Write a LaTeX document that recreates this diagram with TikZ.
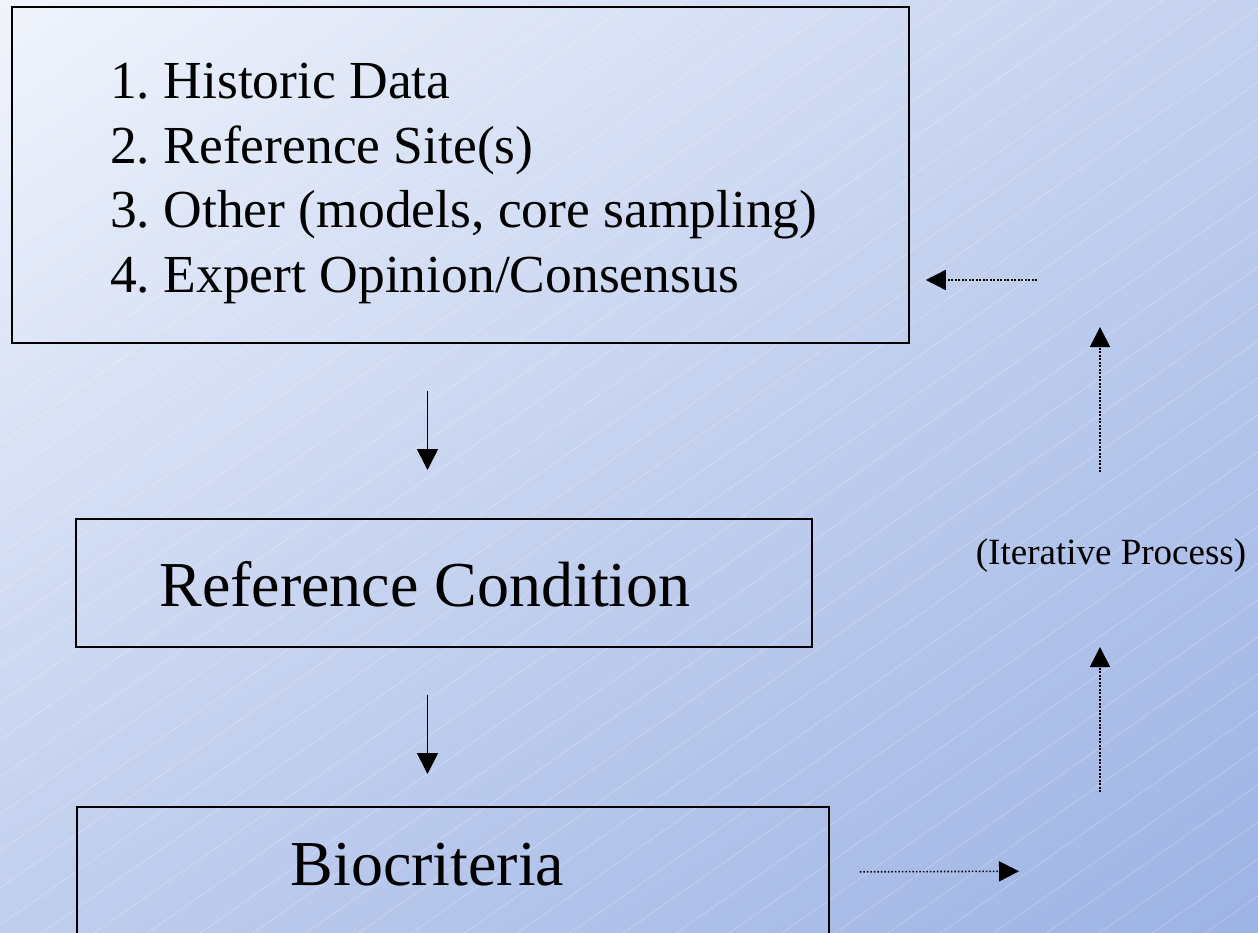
\documentclass[tikz,border=0pt]{standalone}
\usepackage{fontspec}
\setmainfont{Liberation Serif}
\frenchspacing
\usetikzlibrary{arrows.meta,shadings}
\definecolor{bgtopleft}{RGB}{240,244,252}
\definecolor{bgtopright}{RGB}{196,209,239}
\definecolor{bgbotleft}{RGB}{192,206,238}
\definecolor{bgbotright}{RGB}{156,179,228}

\begin{document}
\begin{tikzpicture}[x=1pt,y=-1pt,
    box/.style={draw=black,line width=1.8pt,inner sep=0pt,anchor=north west},
    mainarrow/.style={-{Triangle[length=21pt,width=21pt]},line width=1.8pt},
    iterarrow/.style={-{Triangle[length=20pt,width=20pt]},line width=1.6pt,dash pattern=on 1.6pt off 1.9pt}]
      \useasboundingbox (0,0) rectangle (1258,933);
      % background
      \begin{scope}
        \clip (0,0) rectangle (1258,933);
        \shade[upper left=bgtopleft,upper right=bgtopright,lower left=bgbotleft,lower right=bgbotright]
          (0,0) rectangle (1258,933);
        \foreach \c in {0,37,...,1850}
          \draw[white,opacity=.3,line width=.6pt] (0,\c) -- (1258,\c-880);
      \end{scope}

      \node[box,minimum width=897pt,minimum height=336pt] (databox) at (11,6) {};
      \node[anchor=north west,inner sep=0pt,align=left,font=\fontsize{53.5}{64.5}\selectfont]
      (datalist) at (110,63)
      {1. Historic Data\\2. Reference Site(s)\\3. Other (models, core sampling)\\4. Expert Opinion/Consensus};
      \node[box,minimum width=736pt,minimum height=128pt] (refbox) at (75,518) {};
      \node[inner sep=0pt,font=\fontsize{64}{77}\selectfont] (reftext) at (425,584) {Reference Condition};
      \node[box,minimum width=752pt,minimum height=130pt] (biobox) at (76,806) {};
      \node[inner sep=0pt,font=\fontsize{64}{77}\selectfont] (biotext) at (427.5,865) {Biocriteria};
      \node[inner sep=0pt,font=\fontsize{37}{44}\selectfont] (looptext) at (1111,556) {(Iterative Process)};
      \coordinate (turnlow) at (1100,871);
      \coordinate (turnhigh) at (1100,280);

      \draw[mainarrow,shorten <=47pt,shorten >=48pt] (databox.south -| biotext) -- (refbox.north -| biotext);
      \draw[mainarrow,shorten <=47pt,shorten >=32pt] (refbox.south -| biotext) -- (biobox.north -| biotext);
      %\draw (looptext) -- (turnlow);
      \draw[iterarrow,shorten <=30pt,shorten >=81pt] (biobox.east) -- (turnlow);
      \draw[iterarrow,shorten <=79pt,shorten >=367pt] (turnlow) -- (turnhigh);
      \draw[iterarrow,shorten <=399pt,shorten >=47pt] (turnlow) -- (turnhigh);
      \draw[iterarrow,shorten <=63pt,shorten >=16pt] (turnhigh) -- (databox.east |- turnhigh);
    \end{tikzpicture}
\end{document}
